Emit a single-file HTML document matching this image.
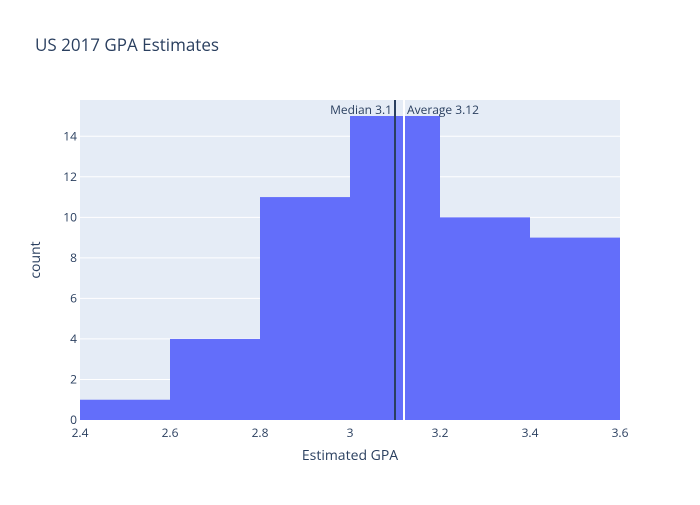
<!DOCTYPE html>
<html><head><meta charset="utf-8"><style>body{margin:0;background:#fff}svg{font-family:"Open Sans","Liberation Sans",sans-serif}</style></head>
<body>
<svg id="chart" width="700" height="500">
<rect width="700" height="500" fill="#fff"/>
<text x="35" y="51" font-size="17" fill="#2a3f5f">US 2017 GPA Estimates</text>
<rect x="80" y="100" width="540" height="320" fill="#e5ecf6"/>
<g id="grid"></g><g id="bars"></g><g id="lines"></g><g id="axes"></g>
<text x="350" y="460" font-size="14" fill="#2a3f5f" text-anchor="middle">Estimated GPA</text>
<text x="40" y="260" font-size="14" fill="#2a3f5f" text-anchor="middle" transform="rotate(-90 40 260)">count</text>
</svg>
<script>
const binStarts=[2.4,2.6,2.8,3.0,3.2,3.4];
const counts=[1,4,11,15,10,9];
const binWidth=0.2;
const xTicks=[2.4,2.6,2.8,3,3.2,3.4,3.6];
const yTicks=[0,2,4,6,8,10,12,14];
const medianVal=3.1, averageVal=3.12;
const NS="http://www.w3.org/2000/svg";
const X0=80,X1=620,Y0=420,Y1=100,xmin=2.4,xmax=3.6,ymax=15.79;
const sx=v=>X0+(v-xmin)/(xmax-xmin)*(X1-X0);
const sy=v=>Y0-v/ymax*(Y0-Y1);
function mk(tag,attrs,parent,text){const e=document.createElementNS(NS,tag);for(const k in attrs)e.setAttribute(k,attrs[k]);if(text!==undefined)e.textContent=text;document.getElementById(parent).appendChild(e);return e;}
yTicks.forEach(t=>{
 if(t>0){const g=mk('line',{x1:X0,x2:X1,y1:sy(t),y2:sy(t),stroke:'#fff','stroke-width':1},'grid');
 
 }
 const l=mk('text',{x:X0-3,y:sy(t)+4,'font-size':12,fill:'#2a3f5f','text-anchor':'end'},'axes',String(t));
 
 
});
xTicks.forEach(t=>{
 const l=mk('text',{x:sx(t),y:Y0+17,'font-size':12,fill:'#2a3f5f','text-anchor':'middle'},'axes',String(t));
 
 
});
binStarts.forEach((b,i)=>{
 const r=mk('rect',{x:sx(b),y:sy(counts[i]),width:sx(b+binWidth)-sx(b),height:Y0-sy(counts[i]),fill:'#636efa'},'bars');
 
 
});
const ml=mk('line',{x1:sx(medianVal),x2:sx(medianVal),y1:Y1,y2:Y0,stroke:'#2a3f5f','stroke-width':2},'lines');


const al=mk('line',{x1:sx(averageVal),x2:sx(averageVal),y1:Y1,y2:Y0,stroke:'#fff','stroke-width':2},'lines');


const mt=mk('text',{x:sx(medianVal)-3,y:114,'font-size':12,fill:'#2a3f5f','text-anchor':'end'},'lines','Median '+medianVal);


const at=mk('text',{x:sx(averageVal)+3,y:114,'font-size':12,fill:'#2a3f5f'},'lines','Average '+averageVal);


</script>
</body></html>
